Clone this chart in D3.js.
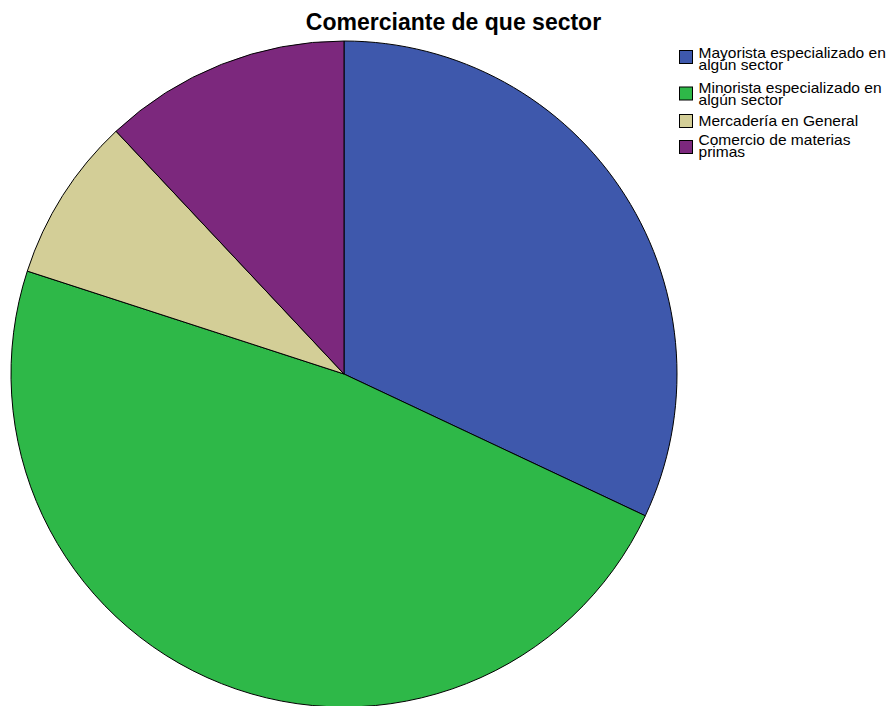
<!DOCTYPE html>
<html>
<head>
<meta charset="utf-8">
<script src="https://cdn.jsdelivr.net/npm/d3@7"></script>
<style>
html, body { margin: 0; padding: 0; background: #fff; }
svg { display: block; font-family: "Liberation Sans", Arial, sans-serif; }
</style>
</head>
<body>
<svg id="chart" width="892" height="706"></svg>
<script>
const title = "Comerciante de que sector";
const categories = ["Mayorista especializado en algún sector", "Minorista especializado en algún sector", "Mercadería en General", "Comercio de materias primas"];
const legendLines = [["Mayorista especializado en", "algún sector"], ["Minorista especializado en", "algún sector"], ["Mercadería en General"], ["Comercio de materias", "primas"]];
const counts = [8, 12, 2, 3];
const colors = ["#3E58AC", "#2EB848", "#D3CE97", "#7C287D"];

const svg = d3.select("#chart");
const cx = 344, cy = 374, r = 333;

const pie = d3.pie().sort(null).value(d => d.v);
const arc = d3.arc().innerRadius(0).outerRadius(r);
const data = categories.map((c, i) => ({ c, v: counts[i] }));
const color = d3.scaleOrdinal().domain(categories).range(colors);

svg.append("g").attr("transform", `translate(${cx},${cy})`)
  .selectAll("path").data(pie(data)).join("path")
  .attr("d", arc)
  .attr("fill", d => color(d.data.c))
  .attr("stroke", "#000").attr("stroke-width", 1).attr("stroke-linejoin", "round");

svg.append("text").attr("x", 453.5).attr("y", 30).attr("text-anchor", "middle")
  .attr("font-size", 23).attr("font-weight", "bold").attr("fill", "#000").text(title);

const lg = svg.append("g").attr("transform", "translate(679,0)");
const swY = [50, 86.5, 114, 140];
const txY = [57.5, 93, 126.3, 144.7];
legendLines.forEach((lines, i) => {
  lg.append("rect").attr("x", 0.5).attr("y", swY[i] + 0.5).attr("width", 13).attr("height", 13)
    .attr("fill", color(categories[i])).attr("stroke", "#000").attr("stroke-width", 1);
  const t = lg.append("text")
    .attr("transform", `translate(19.5,${txY[i]}) scale(1.11,1)`)
    .attr("font-size", 14).attr("fill", "#000");
  lines.forEach((l, j) => t.append("tspan").attr("x", 0).attr("y", j * 12).text(l));
});
</script>
</body>
</html>
